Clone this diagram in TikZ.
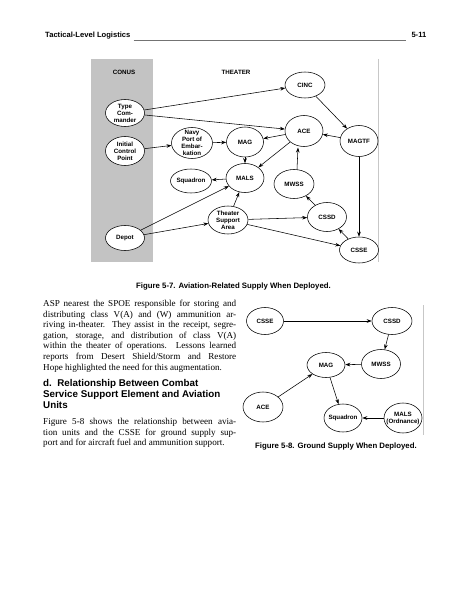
\documentclass[tikz,border=0pt]{standalone}
\usepackage{fontspec}
\setmainfont{Liberation Serif}
\setsansfont{Liberation Sans}
\usetikzlibrary{shapes.geometric,arrows.meta}
\newcommand\mybody{\rmfamily\fontsize{9.1}{10.6}\selectfont}
\newcommand\myjust[1]{\makebox[193pt][s]{#1}}
\begin{document}
\begin{tikzpicture}[x=1pt,y=-1pt]
\tikzset{
  ell/.style={ellipse, draw=black, line width=0.55pt, fill=white, inner sep=0pt},
  lbl/.style={align=center, inner sep=0pt, font=\sffamily\bfseries\fontsize{6.2}{7}\selectfont},
  arr/.style={draw=black, line width=0.55pt, -{Stealth[length=5pt,width=3.6pt]}},
  txt/.style={anchor=base west, inner sep=0pt, font=\mybody},
  headtxt/.style={anchor=base west, inner sep=0pt, font=\sffamily\bfseries\fontsize{9.8}{11}\selectfont},
  figcap/.style={anchor=base west, inner sep=0pt, font=\sffamily\bfseries\fontsize{7.8}{9}\selectfont},
  frameline/.style={draw=black!22, line width=0.6pt},
}
\useasboundingbox (0,0) rectangle (463,599);
\fill[white] (0,0) rectangle (463,599);
% header
\node[anchor=base west, inner sep=0pt, font=\sffamily\bfseries\fontsize{7.6}{9}\selectfont] (hdl) at (45,38) {Tactical-Level Logistics};
\node[anchor=base east, inner sep=0pt, font=\sffamily\bfseries\fontsize{7.6}{9}\selectfont] (hdr) at (426.5,38) {5-11};
\draw[draw=black!55, line width=0.5pt] ([xshift=3pt,yshift=-2.6pt]hdl.base east) -- ([xshift=-5pt,yshift=-2.6pt]hdr.base west);
% figure 5-7
\fill[fill={rgb,255:red,195;green,195;blue,195}] (91,59) rectangle (153,262);
\draw[frameline] (378.5,59) -- (378.5,262);
\node[lbl] (conus) at (124,72.5) {CONUS};
\node[lbl] (theater) at (236,72.5) {THEATER};
\node[ell, minimum width=39pt, minimum height=27pt, label={[lbl]center:Type\\Com-\\mander}] (tc) at (125,113) {};
\node[ell, minimum width=39pt, minimum height=29pt, label={[lbl]center:Initial\\Control\\Point}] (icp) at (125,151) {};
\node[ell, minimum width=39pt, minimum height=25pt, label={[lbl]center:Depot}] (depot) at (125,238) {};
\node[ell, minimum width=41pt, minimum height=31pt, label={[lbl]center:Navy\\Port of\\Embar-\\kation}] (navy) at (192,143) {};
\node[ell, minimum width=41pt, minimum height=24pt, label={[lbl]center:Squadron}] (sq) at (191,181) {};
\node[ell, minimum width=40pt, minimum height=28pt, label={[lbl]center:Theater\\Support\\Area}] (tsa) at (228,220) {};
\node[ell, minimum width=37pt, minimum height=30pt, label={[lbl]center:MAG}] (mag) at (245,142) {};
\node[ell, minimum width=38pt, minimum height=29pt, label={[lbl]center:MALS}] (mals) at (245,178) {};
\node[ell, minimum width=38pt, minimum height=31pt, label={[lbl]center:ACE}] (ace) at (304,131) {};
\node[ell, minimum width=40pt, minimum height=26pt, label={[lbl]center:CINC}] (cinc) at (305,85) {};
\node[ell, minimum width=38pt, minimum height=31pt, label={[lbl]center:MAGTF}] (magtf) at (359,141) {};
\node[ell, minimum width=40pt, minimum height=29pt, label={[lbl]center:MWSS}] (mwss) at (294,184) {};
\node[ell, minimum width=39pt, minimum height=29pt, label={[lbl]center:CSSD}] (cssd) at (327,217) {};
\node[ell, minimum width=39pt, minimum height=26pt, label={[lbl]center:CSSE}] (csse) at (359,250) {};
\draw[arr] (tc) -- (cinc);
\draw[arr] (tc) -- (ace);
\draw[arr] (icp) -- (navy);
\draw[arr] (navy) -- (mag);
\draw[arr] (ace) -- (mag);
\draw[arr] (mag) -- (mals);
\draw[arr] (ace) -- (mals);
\draw[arr] (mals) -- (sq);
\draw[arr] (depot) -- (mals);
\draw[arr] (depot) -- (tsa);
\draw[arr] (tsa) -- (mals);
\draw[arr] (tsa) -- (cssd);
\draw[arr] (tsa) -- (csse);
\draw[arr] (cinc) -- (magtf);
\draw[arr] (magtf) -- (ace);
\draw[arr] (magtf) -- (csse);
\draw[arr] (csse) -- (cssd);
\draw[arr] (cssd) -- (mwss);
\draw[arr] ([xshift=3pt]mwss.north) -- ([xshift=-6pt,yshift=-0.8pt]ace.south);
\node[figcap] (cap7) at (136,288) {Figure 5-7. Aviation-Related Supply When Deployed.};
% body text
\node[txt] (p1) at (43,306.5) {\myjust{ASP nearest the SPOE responsible for storing and}};
\node[txt] (p2) at (43,317.1) {\myjust{distributing class V(A) and (W) ammunition ar-}};
\node[txt] (p3) at (43,327.7) {\myjust{riving in-theater. They assist in the receipt, segre-}};
\node[txt] (p4) at (43,338.3) {\myjust{gation, storage, and distribution of class V(A)}};
\node[txt] (p5) at (43,348.9) {\myjust{within the theater of operations. Lessons learned}};
\node[txt] (p6) at (43,359.5) {\myjust{reports from Desert Shield/Storm and Restore}};
\node[txt] (p7) at (43,370.1) {Hope highlighted the need for this augmentation.};
\node[headtxt] (h1) at (43,386) {d.\ \ Relationship Between Combat};
\node[headtxt] (h2) at (43,397) {Service Support Element and Aviation};
\node[headtxt] (h3) at (43,408) {Units};
\node[txt] (q1) at (43,424.6) {\myjust{Figure 5-8 shows the relationship between avia-}};
\node[txt] (q2) at (43,435.2) {\myjust{tion units and the CSSE for ground supply sup-}};
\node[txt] (q3) at (43,445.8) {port and for aircraft fuel and ammunition support.};
% figure 5-8
\draw[frameline] (423,305) -- (423,435);
\node[ell, minimum width=37pt, minimum height=27pt, label={[lbl]center:CSSE}] (csse2) at (265,321) {};
\node[ell, minimum width=40pt, minimum height=27pt, label={[lbl]center:CSSD}] (cssd2) at (392,321) {};
\node[ell, minimum width=38pt, minimum height=25pt, label={[lbl]center:MAG}] (mag2) at (326,365) {};
\node[ell, minimum width=39pt, minimum height=29pt, label={[lbl]center:MWSS}] (mwss2) at (381,364) {};
\node[ell, minimum width=40pt, minimum height=30pt, label={[lbl]center:ACE}] (ace2) at (263,407) {};
\node[ell, minimum width=38pt, minimum height=28pt, label={[lbl]center:Squadron}] (sq2) at (343,418) {};
\node[ell, minimum width=38pt, minimum height=30pt, label={[lbl]center:MALS\\(Ordnance)}] (mals2) at (403,418) {};
\draw[arr] (csse2) -- (cssd2);
\draw[arr] (cssd2) -- (mwss2);
\draw[arr] (mwss2) -- (mag2);
\draw[arr] (ace2) -- (mag2);
\draw[arr] (mag2) -- (sq2);
\draw[arr] (mals2) -- (sq2);
\node[figcap] (cap8) at (255,448) {Figure 5-8. Ground Supply When Deployed.};
\end{tikzpicture}
\end{document}
